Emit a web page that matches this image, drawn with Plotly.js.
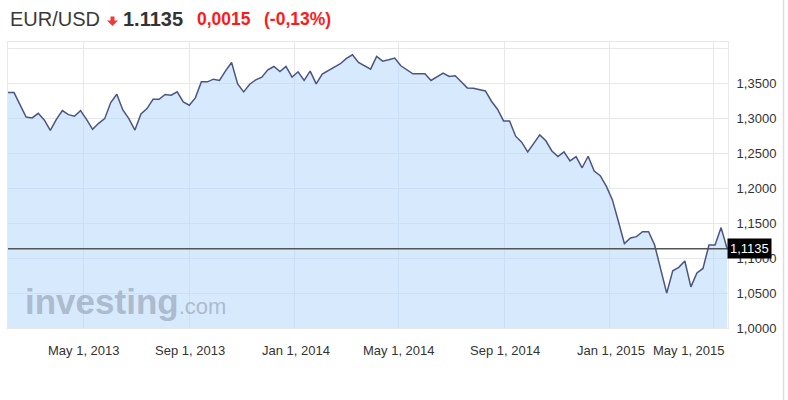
<!DOCTYPE html>
<html>
<head>
<meta charset="utf-8">
<script src="https://cdn.plot.ly/plotly-3.0.1.min.js"></script>
<style>
  html, body { margin: 0; padding: 0; background: #ffffff; }
  #chart { width: 788px; height: 400px; }
</style>
</head>
<body>
<div id="chart"></div>
<script>
// Weekly EUR/USD closes, first week starting 2013-02-03
const startDate = '2013-02-03';
const closes = [
  1.3375, 1.3375, 1.3198, 1.3025, 1.3011, 1.3078, 1.2982, 1.2834, 1.2992, 1.3116,
  1.3059, 1.3035, 1.3116, 1.2992, 1.2848, 1.2934, 1.3001, 1.3232, 1.3351, 1.3126,
  1.3001, 1.2838, 1.3069, 1.3145, 1.3279, 1.3279, 1.3347, 1.3337, 1.3385, 1.3241,
  1.3193, 1.3299, 1.3529, 1.3529, 1.3567, 1.3548, 1.3687, 1.3807, 1.3500, 1.3385,
  1.3495, 1.3558, 1.3596, 1.3701, 1.3749, 1.3677, 1.3749, 1.3596, 1.3673, 1.3548,
  1.3682, 1.3500, 1.3639, 1.3692, 1.3735, 1.3788, 1.3864, 1.3917, 1.3807, 1.3759,
  1.3711, 1.3893, 1.3826, 1.3845, 1.3869, 1.3759, 1.3701, 1.3644, 1.3644, 1.3644,
  1.3548, 1.3605, 1.3653, 1.3605, 1.3615, 1.3529, 1.3442, 1.3438, 1.3418, 1.3399,
  1.3251, 1.3136, 1.2968, 1.2968, 1.2750, 1.2665, 1.2524, 1.2646, 1.2769, 1.2684,
  1.2538, 1.2458, 1.2524, 1.2396, 1.2458, 1.2297, 1.2462, 1.2250, 1.2184, 1.2033,
  1.1840, 1.1530, 1.1210, 1.1290, 1.1310, 1.1380, 1.1380, 1.1190, 1.0840, 1.0500,
  1.0820, 1.0870, 1.0960, 1.0590, 1.0790, 1.0854, 1.1189, 1.1189, 1.1439, 1.1135
];
const lastPrice = 1.1135;
const lastPriceText = '1,1135';
const xTickVals = ['2013-05-01', '2013-09-01', '2014-01-01', '2014-05-01', '2014-09-01', '2015-01-01', '2015-05-01'];
const xTickText = ['May 1, 2013', 'Sep 1, 2013', 'Jan 1, 2014', 'May 1, 2014', 'Sep 1, 2014', 'Jan 1, 2015', 'May 1, 2015'];
const yTickVals = [1.00, 1.05, 1.10, 1.15, 1.20, 1.25, 1.30, 1.35, 1.40];
const yTickText = ['1,0000', '1,0500', '1,1000', '1,1500', '1,2000', '1,2500', '1,3000', '1,3500', ''];
const headerSymbol = 'EUR/USD';
const headerPrice = '1.1135';
const headerChange = '0,0015';
const headerPct = '(-0,13%)';

// weekly date index
const dates = [];
{
  const t0 = Date.parse(startDate + 'T00:00:00Z');
  for (let i = 0; i < closes.length; i++) {
    dates.push(new Date(t0 + i * 7 * 86400000).toISOString().slice(0, 10));
  }
}

const FONT = '"Liberation Sans", Arial, Helvetica, sans-serif';
const L = 8, R = 60, T = 42, B = 72, W = 788, H = 400;
const pw = W - L - R, ph = H - T - B;
const px = p => (p - L) / pw;       // pixel -> paper x
const py = p => (H - B - p) / ph;   // pixel -> paper y

const trace = {
  type: 'scatter',
  mode: 'lines',
  x: dates,
  y: closes,
  fill: 'tozeroy',
  fillcolor: 'rgba(173,211,251,0.5)',
  line: { color: '#4b5582', width: 1.5 },
  hoverinfo: 'skip'
};

const annotations = [];
// x tick labels
xTickVals.forEach((d, i) => {
  annotations.push({
    x: d, xref: 'x', y: 0, yref: 'paper',
    xanchor: 'center', yanchor: 'top', yshift: -13,
    xshift: i === xTickVals.length - 1 ? -24 : 1,
    text: xTickText[i], showarrow: false,
    font: { family: FONT, size: 13, color: '#333333' }
  });
});
// current price label
annotations.push({
  x: 1, xref: 'paper', y: lastPrice, yref: 'y',
  xanchor: 'left', yanchor: 'middle', xshift: -1,
  text: lastPriceText, showarrow: false,
  bgcolor: '#000000', borderpad: 2,
  font: { family: FONT, size: 13, color: '#ffffff' }
});
// header
const hy = py(19);
annotations.push({ x: px(8), xref: 'paper', y: hy, yref: 'paper', xanchor: 'left', yanchor: 'middle',
  text: headerSymbol, showarrow: false, font: { family: FONT, size: 20, color: '#3a3a3a' } });
annotations.push({ x: px(121), xref: 'paper', y: hy, yref: 'paper', xanchor: 'left', yanchor: 'middle',
  text: '<b>' + headerPrice + '</b>', showarrow: false, font: { family: FONT, size: 20, color: '#333333' } });
annotations.push({ x: px(195), xref: 'paper', y: hy, yref: 'paper', xanchor: 'left', yanchor: 'middle',
  text: '<b>' + headerChange + '</b>', showarrow: false, font: { family: FONT, size: 17.5, color: '#ff1a1a' } });
annotations.push({ x: px(262), xref: 'paper', y: hy, yref: 'paper', xanchor: 'left', yanchor: 'middle',
  text: '<b>' + headerPct + '</b>', showarrow: false, font: { family: FONT, size: 17.5, color: '#ff1a1a' } });
// watermark
annotations.push({ x: px(23), xref: 'paper', y: py(301), yref: 'paper', xanchor: 'left', yanchor: 'middle',
  text: '<b>investing</b><span style="font-size:22px;font-weight:normal">.com</span>', showarrow: false,
  font: { family: FONT, size: 35, color: 'rgba(135,148,165,0.55)' } });

// small red down-arrow in the header (decoration)
const arrowPath = 'M ' + px(110.5) + ',' + py(16.5) +
  ' L ' + px(114.5) + ',' + py(16.5) +
  ' L ' + px(114.5) + ',' + py(20.5) +
  ' L ' + px(118) + ',' + py(20.5) +
  ' L ' + px(112.5) + ',' + py(26) +
  ' L ' + px(107) + ',' + py(20.5) +
  ' L ' + px(110.5) + ',' + py(20.5) + ' Z';

const shapes = [
  { type: 'line', xref: 'paper', yref: 'y', x0: 0, x1: 1, y0: lastPrice, y1: lastPrice,
    line: { color: '#555555', width: 1.5 } },
  { type: 'line', xref: 'paper', yref: 'paper', x0: px(783.5), x1: px(783.5), y0: py(400), y1: py(0),
    line: { color: '#dddddd', width: 1.5 } },
  { type: 'path', xref: 'paper', yref: 'paper', path: arrowPath,
    fillcolor: '#f03a3a', line: { width: 0 } }
];

const layout = {
  width: W, height: H,
  margin: { l: L, r: R, t: T, b: B, pad: 0 },
  paper_bgcolor: '#ffffff', plot_bgcolor: '#ffffff',
  showlegend: false,
  xaxis: {
    type: 'date',
    range: ['2013-02-03', '2015-05-18'],
    tickvals: xTickVals,
    showticklabels: false,
    showgrid: true, gridcolor: '#e6e8ee', gridwidth: 1,
    showline: true, mirror: true, linecolor: '#e8e8e8', linewidth: 1,
    zeroline: false, ticks: ''
  },
  yaxis: {
    side: 'right',
    range: [1.0, 1.41],
    tickvals: yTickVals, ticktext: yTickText,
    showgrid: true, gridcolor: '#e6e8ee', gridwidth: 1,
    showline: true, mirror: true, linecolor: '#e8e8e8', linewidth: 1,
    zeroline: false, ticks: '', ticklabelstandoff: 5,
    tickfont: { family: FONT, size: 13, color: '#333333' }
  },
  annotations: annotations,
  shapes: shapes
};

Plotly.newPlot('chart', [trace], layout, { displayModeBar: false, staticPlot: true });
</script>
</body>
</html>
